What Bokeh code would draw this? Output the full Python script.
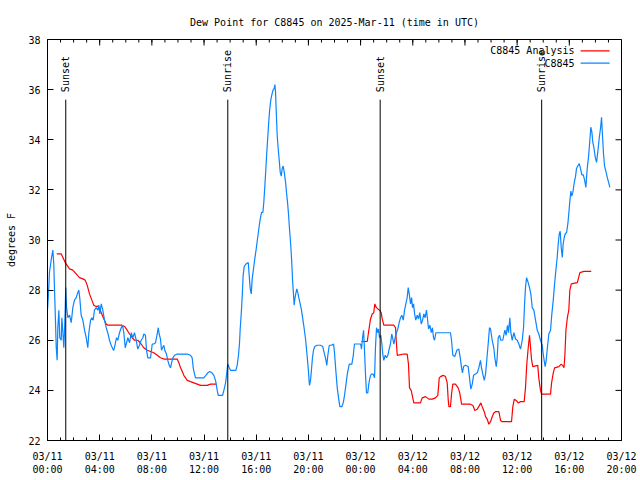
import math
from bokeh.plotting import figure
from bokeh.models import Range1d, FixedTicker, Label
from bokeh.embed import file_html
from bokeh.resources import INLINE
from bokeh.core.properties import value

FONT = "DejaVu Sans Mono"
FS = "10px"

# ---------------- data (hours since 2025-03-11 00:00 UTC, degrees F) ----------------
obs_hours = [
    0.00, 0.08, 0.15, 0.28, 0.41, 0.48, 0.54, 0.61, 0.67, 0.74, 0.79, 0.87, 0.94, 1.05, 1.10, 1.17,
    1.25, 1.30, 1.36, 1.40, 1.46, 1.56, 1.69, 1.82, 1.94, 2.07, 2.20, 2.32, 2.40, 2.48, 2.58, 2.71,
    2.84, 2.97, 3.09, 3.17, 3.30, 3.40, 3.50, 3.60, 3.73, 3.86, 3.93, 4.01, 4.12, 4.24, 4.37, 4.50,
    4.62, 4.75, 4.88, 5.01, 5.08, 5.19, 5.29, 5.39, 5.52, 5.65, 5.75, 5.85, 5.96, 6.06, 6.16, 6.29,
    6.42, 6.54, 6.67, 6.80, 6.92, 7.05, 7.18, 7.31, 7.38, 7.51, 7.59, 7.69, 7.90, 8.03, 8.15, 8.28,
    8.41, 8.49, 8.56, 8.66, 8.74, 8.82, 8.92, 8.99, 9.12, 9.22, 9.33, 9.43, 9.51, 9.61, 9.74, 9.94,
    10.20, 10.45, 10.71, 10.96, 11.09, 11.17, 11.27, 11.35, 11.52, 11.78, 11.98, 12.14, 12.29, 12.44,
    12.60, 12.75, 12.88, 13.01, 13.09, 13.26, 13.42, 13.52, 13.65, 13.72, 13.82, 13.93, 14.03, 14.28,
    14.44, 14.54, 14.64, 14.72, 14.77, 14.85, 14.93, 15.00, 15.08, 15.23, 15.39, 15.46, 15.54, 15.62,
    15.69, 15.79, 15.89, 16.00, 16.10, 16.20, 16.31, 16.41, 16.51, 16.58, 16.66, 16.74, 16.81, 16.89,
    16.97, 17.04, 17.12, 17.20, 17.30, 17.38, 17.43, 17.48, 17.53, 17.61, 17.69, 17.76, 17.84, 17.92,
    17.99, 18.07, 18.15, 18.25, 18.32, 18.40, 18.48, 18.55, 18.63, 18.71, 18.78, 18.86, 18.91, 18.96,
    19.03, 19.11, 19.19, 19.26, 19.37, 19.47, 19.57, 19.68, 19.78, 19.88, 19.99, 20.08, 20.16, 20.24,
    20.31, 20.39, 20.49, 20.68, 20.93, 21.10, 21.21, 21.31, 21.41, 21.49, 21.60, 21.77, 21.93, 22.00,
    22.10, 22.21, 22.31, 22.41, 22.56, 22.67, 22.77, 22.87, 22.98, 23.13, 23.33, 23.44, 23.53, 23.74,
    24.00, 24.07, 24.15, 24.23, 24.30, 24.38, 24.45, 24.55, 24.63, 24.71, 24.81, 24.97, 25.07, 25.14,
    25.22, 25.30, 25.37, 25.45, 25.55, 25.63, 25.70, 25.78, 25.89, 25.99, 26.09, 26.19, 26.29, 26.39,
    26.47, 26.55, 26.65, 26.75, 26.85, 26.96, 27.06, 27.16, 27.27, 27.37, 27.47, 27.57, 27.65, 27.73,
    27.83, 27.91, 27.98, 28.06, 28.14, 28.23, 28.34, 28.44, 28.54, 28.65, 28.75, 28.85, 28.95, 29.05,
    29.13, 29.21, 29.31, 29.42, 29.51, 29.59, 29.67, 29.77, 30.13, 30.51, 30.89, 30.97, 31.07, 31.22,
    31.38, 31.53, 31.64, 31.74, 31.81, 31.89, 32.04, 32.25, 32.35, 32.45, 32.56, 32.66, 32.81, 32.94,
    33.06, 33.19, 33.27, 33.37, 33.48, 33.58, 33.68, 33.78, 33.88, 33.96, 34.09, 34.21, 34.29, 34.40,
    34.47, 34.55, 34.65, 34.75, 34.90, 35.06, 35.16, 35.26, 35.34, 35.44, 35.52, 35.62, 35.75, 35.88,
    36.01, 36.13, 36.26, 36.39, 36.49, 36.57, 36.64, 36.72, 36.82, 36.95, 37.05, 37.16, 37.28, 37.41,
    37.54, 37.66, 37.79, 37.92, 38.00, 38.07, 38.15, 38.23, 38.30, 38.43, 38.56, 38.66, 38.77, 38.87,
    38.97, 39.07, 39.15, 39.23, 39.30, 39.38, 39.46, 39.53, 39.61, 39.69, 39.79, 39.89, 39.96, 40.04,
    40.12, 40.19, 40.27, 40.38, 40.48, 40.55, 40.65, 40.76, 40.86, 40.96, 41.07, 41.17, 41.27, 41.37,
    41.47, 41.57, 41.65, 41.73, 41.80, 41.88, 41.99, 42.09, 42.19, 42.30, 42.39, 42.47, 42.55, 42.62,
    42.70, 42.80, 42.91, 43.01, 43.11,
]
obs_dewpt = [
    27.2, 27.9, 28.7, 29.2, 29.6, 29.05, 28.0, 26.8, 25.7, 25.2, 26.5, 27.2, 26.1, 26.0, 26.9, 26.4,
    25.7, 26.3, 27.3, 28.1, 27.3, 26.9, 27.0, 26.7, 27.3, 27.6, 27.7, 27.9, 28.0, 27.65, 27.0, 26.8,
    26.4, 26.1, 25.7, 26.3, 26.8, 26.9, 26.8, 27.2, 27.3, 27.2, 27.4, 27.05, 27.45, 27.2, 26.8, 26.5,
    26.3, 26.0, 25.8, 25.65, 25.6, 25.85, 26.1, 26.0, 26.3, 26.5, 26.6, 26.3, 25.7, 25.9, 26.1, 25.9,
    26.3, 26.1, 26.3, 26.0, 25.65, 25.8, 26.0, 26.1, 26.25, 26.2, 25.6, 25.3, 25.3, 25.85, 25.85, 25.9,
    26.25, 26.5, 26.25, 26.05, 25.6, 25.7, 25.8, 25.6, 25.45, 25.2, 25.0, 24.9, 25.1, 25.3, 25.4, 25.45,
    25.45, 25.45, 25.45, 25.4, 25.3, 24.9, 24.65, 24.5, 24.5, 24.5, 24.5, 24.6, 24.7, 24.75,
    24.7, 24.6, 24.4, 24.0, 23.8, 23.8, 23.8, 24.0, 24.3, 24.6, 25.05, 24.9, 24.8, 24.8,
    24.8, 25.0, 25.4, 25.9, 26.45, 27.05, 27.8, 28.6, 28.95, 29.05, 29.1, 28.6, 28.05, 27.85,
    28.45, 28.85, 29.25, 29.65, 30.05, 30.45, 30.85, 31.1, 31.1, 31.5, 32.15, 32.85, 33.5, 34.15,
    34.8, 35.25, 35.6, 35.8, 36.0, 36.05, 36.2, 35.9, 35.2, 34.15, 33.6, 33.2, 32.7, 32.55,
    32.85, 32.95, 32.7, 32.3, 31.9, 31.5, 31.0, 30.45, 29.9, 29.25, 28.45, 27.8, 27.4, 27.65,
    27.85, 28.05, 27.9, 27.7, 27.45, 27.2, 26.85, 26.45, 26.05, 25.5, 24.85, 24.2, 24.4, 24.85,
    25.3, 25.6, 25.75, 25.8, 25.8, 25.75, 25.5, 25.3, 25.0, 25.4, 25.8, 25.8, 25.85, 25.5,
    24.8, 24.1, 23.7, 23.35, 23.35, 23.5, 23.8, 24.2, 24.65, 25.05, 25.05, 25.4, 25.85, 25.85,
    25.85, 25.65, 26.1, 26.4, 25.6, 24.6, 23.9, 23.9, 24.25, 24.5, 24.65, 24.65, 24.5, 25.7,
    26.5, 26.3, 26.45, 26.1, 26.2, 25.85, 25.45, 25.2, 25.4, 25.3, 25.4, 25.65, 25.85, 26.25,
    26.05, 25.85, 26.1, 26.3, 26.45, 26.7, 26.9, 27.0, 26.8, 27.2, 27.45, 27.7, 28.1, 27.85,
    27.45, 27.7, 27.3, 27.45, 27.05, 26.8, 27.0, 26.85, 27.1, 26.65, 26.8, 27.05, 26.9, 27.2,
    26.85, 26.45, 26.6, 26.3, 26.5, 26.1, 26.0, 26.3, 26.3, 26.3, 26.3, 26.0, 25.4, 25.35,
    25.6, 25.65, 25.3, 24.9, 24.7, 24.95, 25.0, 24.95, 24.5, 24.05, 24.25, 24.6, 24.65, 24.7,
    24.9, 25.2, 24.9, 24.65, 24.4, 24.65, 25.25, 25.85, 26.5, 26.45, 26.0, 25.7, 25.3, 24.95,
    25.3, 26.1, 26.2, 26.0, 26.0, 26.4, 26.2, 26.6, 26.3, 26.9, 26.3, 26.0, 26.3, 26.05,
    26.0, 25.85, 25.65, 26.0, 26.5, 27.45, 28.1, 28.5, 28.35, 28.1, 27.85, 27.3, 27.2, 26.8,
    26.4, 26.25, 26.0, 25.8, 25.45, 25.2, 24.95, 25.2, 25.6, 26.25, 26.4, 27.05, 27.6, 28.25,
    28.8, 29.3, 29.85, 30.25, 30.35, 29.7, 29.3, 29.85, 30.1, 30.25, 30.3, 30.65, 31.05, 31.55,
    31.95, 31.75, 31.9, 32.3, 32.55, 32.85, 32.95, 33.05, 32.85, 32.6, 32.6, 32.4, 32.1, 32.85,
    33.3, 33.95, 34.5, 34.3, 33.9, 33.7, 33.3, 33.1, 33.55, 34.1, 34.45, 34.9, 34.1, 33.45,
    32.95, 32.75, 32.5, 32.3, 32.1,
]

nan = float("nan")
ana_hours = [
    0.71, 1.05, 1.36, 1.69, 1.94, 2.20, 2.45, 2.71, 2.89, 3.04, 3.22, 3.40, 3.55, 3.73, 3.91, 4.12,
    4.32, 4.50, 4.62, 5.14, 5.70, 5.90, 6.11, 6.29, 6.49, 6.67, 6.92, 7.18, 7.38, 7.64, 7.90, 8.15,
    8.41, 8.66, 8.92, 9.94, 10.07, 10.20, 10.33, 10.45, 10.58, 10.71, 10.96, 11.22, 11.48, 11.73,
    12.24, 12.50, 12.96, nan,
    24.07, 24.51, 24.59, 24.69, 24.76, 24.89, 25.01, 25.09, 25.22, 25.32, 25.47, 25.58, 25.66, 25.78,
    26.55, 26.68, 26.73, 26.81, 27.31, 27.57, 27.67, 27.75, 27.88, 27.98, 28.08, 28.59, 28.72, 28.98,
    29.23, 29.49, 29.74, 29.92, 30.03, 30.13, 30.33, 30.51, 30.64, 30.72, 30.77, 30.89, 30.97, 31.07,
    31.27, 31.48, 31.60, 31.74, 32.43, 32.61, 32.76, 32.94, 33.06, 33.22, 33.32, 33.48, 33.58, 33.71,
    33.83, 33.96, 34.09, 34.21, 34.34, 34.60, 34.73, 34.86, 35.57, 35.67, 35.78, 35.93, 36.08, 36.26,
    36.54, 36.64, 36.74, 36.85, 36.95, 37.03, 37.10, 37.20, 37.58, 37.66, 37.79, 37.87, 38.56, 38.64,
    38.77, 38.87, 39.20, 39.38, 39.48, 39.59, 39.66, 39.74, 39.85, 39.96, 40.04, 40.15, 40.61, 40.69,
    40.81, 41.12, 41.68,
]
ana_dewpt = [
    29.45, 29.45, 29.1, 28.85, 28.8, 28.65, 28.5, 28.45, 28.4, 28.2, 27.85, 27.6, 27.4, 27.35, 27.35, 27.1,
    26.85, 26.65, 26.6, 26.6, 26.6, 26.55, 26.4, 26.25, 26.1, 26.0, 26.0, 25.85, 25.7, 25.6, 25.55, 25.5,
    25.4, 25.3, 25.25, 25.25, 25.1, 24.9, 24.75, 24.6, 24.5, 24.4, 24.35, 24.3, 24.25, 24.2,
    24.2, 24.25, 24.25, nan,
    25.95, 25.95, 26.25, 26.6, 26.85, 27.05, 27.1, 27.45, 27.3, 27.25, 27.2, 27.1, 26.85, 26.6,
    26.6, 26.5, 26.0, 25.4, 25.45, 25.45, 25.05, 24.1, 24.0, 23.75, 23.5, 23.5, 23.7, 23.75,
    23.65, 23.65, 23.7, 23.8, 24.5, 24.55, 24.6, 24.55, 24.3, 23.6, 23.35, 23.35, 23.85, 24.25,
    24.25, 24.1, 23.9, 23.45, 23.45, 23.4, 23.2, 23.25, 23.35, 23.5, 23.35, 23.15, 22.95, 22.85,
    22.65, 22.75, 22.95, 23.1, 23.15, 23.15, 22.8, 22.75, 22.75, 23.35, 23.65, 23.6, 23.5, 23.55,
    23.55, 24.1, 25.05, 25.7, 26.2, 25.7, 25.25, 24.95, 25.0, 24.5, 24.0, 23.85, 23.85, 24.3,
    24.7, 24.9, 24.95, 25.05, 25.0, 24.9, 25.4, 26.4, 26.9, 27.2, 28.0, 28.25, 28.3, 28.45,
    28.7, 28.75, 28.75,
]

event_hours = [1.40, 13.82, 25.50, 37.88]
event_names = ["Sunset", "Sunrise", "Sunset", "Sunrise"]

tick_hours = [0, 4, 8, 12, 16, 20, 24, 28, 32, 36, 40, 44]
tick_labels = ["03/11\n00:00", "03/11\n04:00", "03/11\n08:00", "03/11\n12:00",
               "03/11\n16:00", "03/11\n20:00", "03/12\n00:00", "03/12\n04:00",
               "03/12\n08:00", "03/12\n12:00", "03/12\n16:00", "03/12\n20:00"]
minor_hours = list(range(0, 45))
y_ticks = [22, 24, 26, 28, 30, 32, 34, 36, 38]

series_names = ["C8845 Analysis", "C8845"]
series_colors = ["#ff0000", "#0a84ff"]

X0, X1 = 0, 44
Y0, Y1 = 22, 38

# ---------------- figure ----------------
W, H = 640, 480
BL, BR, BT, BB = 47, 19, 39, 40
p = figure(width=W, height=H, output_backend="svg", toolbar_location=None,
           x_range=Range1d(X0, X1), y_range=Range1d(Y0, Y1),
           min_border_left=BL, min_border_right=BR, min_border_top=BT, min_border_bottom=BB,
           title="Dew Point for C8845 on 2025-Mar-11 (time in UTC)")
p.title.text_font = FONT
p.title.text_font_size = FS
p.title.text_font_style = "normal"
p.title.text_color = "black"
p.title.align = "center"
p.title.standoff = 23
p.grid.visible = False
p.outline_line_color = "black"
p.outline_line_width = 1
p.background_fill_color = "white"
p.border_fill_color = "white"

xt = FixedTicker(ticks=tick_hours, minor_ticks=minor_hours)
yt = FixedTicker(ticks=y_ticks)


def style_axis(ax):
    ax.axis_line_color = "black"
    ax.major_tick_in = 6
    ax.major_tick_out = 0
    ax.minor_tick_in = 3
    ax.minor_tick_out = 0
    ax.major_tick_line_color = "black"
    ax.minor_tick_line_color = "black"
    ax.major_label_text_font = FONT
    ax.major_label_text_font_size = FS
    ax.major_label_text_color = "black"


xa = p.xaxis[0]
xa.ticker = xt
xa.major_label_overrides = dict(zip(tick_hours, tick_labels))
style_axis(xa)
xa.major_label_standoff = 10

ya = p.yaxis[0]
ya.ticker = yt
style_axis(ya)
ya.minor_tick_line_color = None
ya.major_label_standoff = 7
ya.axis_label = "degrees F"
ya.axis_label_text_font = FONT
ya.axis_label_text_font_size = FS
ya.axis_label_text_font_style = "normal"
ya.axis_label_text_color = "black"
ya.axis_label_standoff = 8

# mirrored inward ticks on the top and right edges (gnuplot style)
frame_w = W - BL - BR
frame_h = H - BT - BB
dy_major = 6 * (Y1 - Y0) / frame_h
dy_minor = 3 * (Y1 - Y0) / frame_h
dx_major = 6 * (X1 - X0) / frame_w
p.segment(x0=tick_hours, y0=[Y1] * len(tick_hours), x1=tick_hours,
          y1=[Y1 - dy_major] * len(tick_hours), line_color="black", line_width=1)
p.segment(x0=minor_hours, y0=[Y1] * len(minor_hours), x1=minor_hours,
          y1=[Y1 - dy_minor] * len(minor_hours), line_color="black", line_width=1)
p.segment(x0=[X1] * len(y_ticks), y0=y_ticks, x1=[X1 - dx_major] * len(y_ticks),
          y1=y_ticks, line_color="black", line_width=1)

# data lines
p.line(ana_hours, ana_dewpt, line_color=series_colors[0], line_width=1.2)
p.line(obs_hours, obs_dewpt, line_color=series_colors[1], line_width=1.2)

# sunrise / sunset markers
EVENT_TOP = 35.6
p.segment(x0=event_hours, y0=[Y0] * len(event_hours), x1=event_hours,
          y1=[EVENT_TOP] * len(event_hours), line_color="black", line_width=1)
p.text(x=event_hours, y=[EVENT_TOP + 0.3] * len(event_hours), text=event_names,
       angle=math.pi / 2, text_align="left", text_baseline="middle",
       text_font=value(FONT), text_font_size=FS, text_color="black")

# legend (gnuplot style: text then sample line)
LEG_TEXT_X = 40.40
LEG_LINE_X0, LEG_LINE_X1 = 40.87, 43.09
LEG_Y = [37.55, 37.06]
for name, color, ly in zip(series_names, series_colors, LEG_Y):
    p.add_layout(Label(x=LEG_TEXT_X, y=ly, text=name, text_align="right",
                       text_baseline="middle", text_font=FONT, text_font_size=FS,
                       text_color="black"))
    p.line([LEG_LINE_X0, LEG_LINE_X1], [ly, ly], line_color=color, line_width=1.2)

open("out.html", "w").write(file_html(p, INLINE))
